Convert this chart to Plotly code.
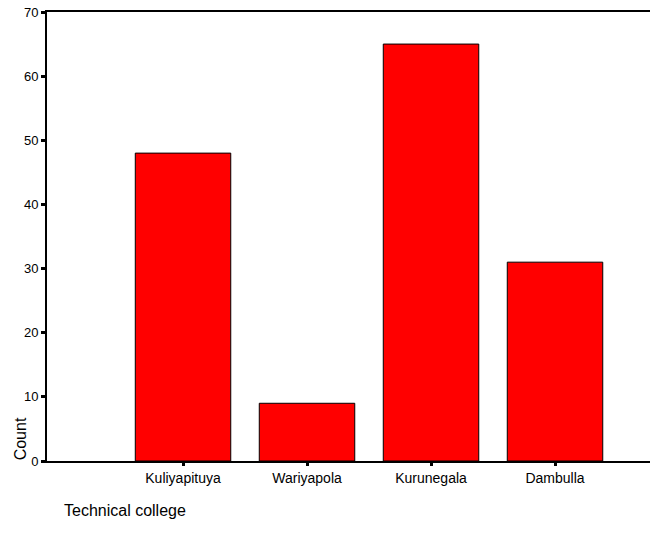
import plotly.graph_objects as go

categories = ["Kuliyapituya", "Wariyapola", "Kurunegala", "Dambulla"]
counts = [48, 9, 65, 31]
y_ticks = [0, 10, 20, 30, 40, 50, 60, 70]

FONT = "Liberation Sans, Arial, sans-serif"

PLOT_W = 603
PLOT_H = 449

fig = go.Figure(go.Bar(
    x=list(range(len(categories))),
    y=counts,
    width=0.77,
    marker=dict(color="#FF0000", line=dict(color="black", width=1)),
))

fig.update_layout(
    width=652, height=544,
    margin=dict(l=47, r=2, t=12, b=83, pad=0),
    paper_bgcolor="white", plot_bgcolor="white",
    showlegend=False,
    font=dict(family=FONT, color="black"),
    xaxis=dict(
        range=[-1.097, 3.766],
        tickmode="array",
        tickvals=list(range(len(categories))),
        ticktext=categories,
        tickfont=dict(size=14, family=FONT),
        showline=True, linecolor="black", linewidth=2,
        mirror=True,
        ticks="outside", ticklen=3, tickwidth=3, tickcolor="black",
        showgrid=False, zeroline=False,
    ),
    yaxis=dict(
        range=[0, 70],
        tickmode="array",
        tickvals=y_ticks,
        ticktext=[str(v) for v in y_ticks],
        tickfont=dict(size=13, family=FONT),
        showline=True, linecolor="black", linewidth=2,
        ticks="outside", ticklen=4, tickwidth=3, tickcolor="black",
        showgrid=False, zeroline=False,
    ),
    annotations=[
        dict(text="Count", textangle=-90, xref="paper", yref="paper",
             x=-37 / PLOT_W, y=-0.003, xanchor="left", yanchor="bottom",
             showarrow=False, font=dict(size=16, family=FONT)),
        dict(text="Technical college", xref="paper", yref="paper",
             x=15 / PLOT_W, y=-0.086, xanchor="left", yanchor="top",
             showarrow=False, font=dict(size=16, family=FONT)),
    ],
)

fig.write_html(
    "out.html",
    config={"displayModeBar": False},
    post_script="document.body.style.margin='0';document.body.style.overflow='hidden';",
)
